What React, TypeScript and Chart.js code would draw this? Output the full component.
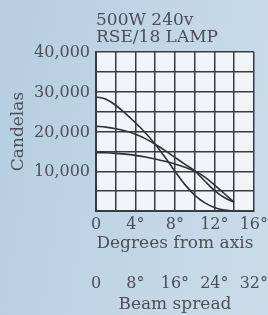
import React, { useEffect, useRef } from "react";
import { Chart, registerables } from "chart.js";

Chart.register(...registerables);

const degrees = [0, 1, 2, 3, 4, 5, 6, 7, 8, 9, 10, 11, 12, 13, 14];
const curveA = [28700, 28100, 26600, 24500, 22200, 19700, 16800, 13500, 10000, 6700, 4000, 2100, 900, 250, 0];
const curveB = [21300, 21100, 20700, 20100, 19300, 18200, 16800, 15200, 13500, 11800, 10100, 7600, 5200, 3400, 2200];
const curveC = [14700, 14650, 14500, 14300, 14000, 13600, 13100, 12500, 11800, 11000, 10100, 8600, 6600, 4400, 2200];
const titleLines = ["500W 240v", "RSE/18 LAMP"];
const yTitle = "Candelas";
const xTitle = "Degrees from axis";
const x2Title = "Beam spread";

const FONT = "'DejaVu Serif', serif";
const TEXT = "#4a505c";
const GRID = "#3a3b40";

const plotBg = {
  id: "plotBg",
  beforeDraw(chart: any) {
    const { ctx, chartArea } = chart;
    ctx.save();
    ctx.fillStyle = "#f2f5f7";
    ctx.fillRect(chartArea.left, chartArea.top, chartArea.right - chartArea.left, chartArea.bottom - chartArea.top);
    ctx.restore();
  },
};

export default function App() {
  const ref = useRef<HTMLCanvasElement>(null);
  useEffect(() => {
    document.body.style.margin = "0";
    const toPts = (arr: number[]) => degrees.map((d, i) => ({ x: d, y: arr[i] }));
    const ds = (arr: number[]) => ({
      data: toPts(arr),
      borderColor: "#303136",
      borderWidth: 1.6,
      pointRadius: 0,
      cubicInterpolationMode: "monotone" as const,
      fill: false,
    });
    const chart = new Chart(ref.current!, {
      type: "line",
      data: { datasets: [ds(curveA), ds(curveB), ds(curveC)] },
      plugins: [plotBg],
      options: {
        animation: false,
        responsive: true,
        maintainAspectRatio: false,
        devicePixelRatio: 1,
        layout: { padding: { left: 0, right: 14, top: 0, bottom: 1 } },
        plugins: {
          legend: { display: false },
          tooltip: { enabled: false },
          title: {
            display: true,
            text: titleLines,
            align: "start",
            fullSize: false,
            color: TEXT,
            font: { family: FONT, size: 17, weight: "normal", lineHeight: 1.0 },
            padding: { top: 12, bottom: 6 },
          },
        },
        scales: {
          x: {
            type: "linear",
            position: "bottom",
            min: 0,
            max: 16,
            weight: 0,
            afterFit: (s: any) => { s.height = 42; },
            grid: { color: GRID, lineWidth: 1.5, drawTicks: true, tickLength: 4, tickColor: "rgba(0,0,0,0)" },
            border: { color: GRID, width: 2 },
            ticks: {
              stepSize: 2,
              autoSkip: false,
              maxRotation: 0,
              padding: 0,
              color: TEXT,
              font: { family: FONT, size: 16 },
              callback: (v: any) => (v % 4 === 0 ? (v === 0 ? "0" : v + "°") : ""),
            },
            title: {
              display: true,
              text: xTitle,
              color: TEXT,
              font: { family: FONT, size: 17, lineHeight: 1.15 },
              padding: { top: 0, bottom: 0 },
            },
          },
          x2: {
            type: "linear",
            position: "bottom",
            min: 0,
            max: 32,
            weight: 1,
            afterFit: (s: any) => { s.height = 61; },
            grid: {
              display: true,
              drawOnChartArea: false,
              drawTicks: true,
              tickLength: 21,
              color: "rgba(0,0,0,0)",
              tickColor: "rgba(0,0,0,0)",
            },
            border: { display: false },
            ticks: {
              stepSize: 8,
              autoSkip: false,
              maxRotation: 0,
              padding: 0,
              color: TEXT,
              font: { family: FONT, size: 16 },
              callback: (v: any) => (v === 0 ? "0" : v + "°"),
            },
            title: {
              display: true,
              text: x2Title,
              color: TEXT,
              font: { family: FONT, size: 17, lineHeight: 1.15 },
              padding: { top: 0, bottom: 0 },
            },
          },
          y: {
            type: "linear",
            min: 0,
            max: 40000,
            afterFit: (s: any) => { s.width = 96; },
            grid: { color: GRID, lineWidth: 1.5, drawTicks: false },
            border: { color: GRID, width: 2 },
            ticks: {
              stepSize: 5000,
              autoSkip: false,
              padding: 6,
              labelOffset: 1,
              color: TEXT,
              font: { family: FONT, size: 16 },
              callback: (v: any) => (v % 10000 === 0 && v > 0 ? Number(v).toLocaleString("en-US") : ""),
            },
            title: {
              display: true,
              text: yTitle,
              color: TEXT,
              font: { family: FONT, size: 17, lineHeight: 1.15 },
              padding: { top: 9, bottom: 0 },
            },
          },
        },
      },
    });
    return () => chart.destroy();
  }, []);
  return (
    <div
      style={{
        width: 268,
        height: 315,
        position: "relative",
        background: "linear-gradient(100deg, #b6cee0 0%, #c3d7e6 60%, #cadcea 100%)",
      }}
    >
      <canvas ref={ref} />
    </div>
  );
}
